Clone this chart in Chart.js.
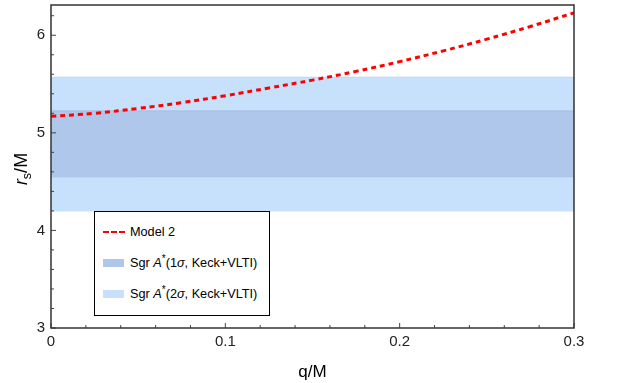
<!DOCTYPE html>
<html>
<head>
<meta charset="utf-8">
<script src="https://cdn.jsdelivr.net/npm/chart.js@4.4.1/dist/chart.umd.min.js"></script>
<style>
  body { margin: 0; background: #fff; }
  #caixa { position: relative; width: 617px; height: 383px; }
  #legenda {
    position: absolute; left: 94px; top: 211px; width: 174px; height: 103px;
    border: 1.5px solid #000; background: #fff;
    font-family: "Liberation Sans", Arial, sans-serif; font-size: 12.7px; color: #000;
  }
  .item { position: absolute; left: 8px; height: 14px; line-height: 14px; }
  .marca { position: absolute; left: 0; top: 3px; width: 21px; height: 8px; }
  .texto { position: absolute; left: 27px; top: 0; white-space: nowrap; }
  .texto sup { font-size: 10px; line-height: 0; }
  .tracejado { position: absolute; left: 0; top: 6px; width: 22px; height: 0; border-top: 2.5px dashed #ff0000; }
</style>
</head>
<body>
<div id="caixa">
  <canvas id="grafic" width="617" height="383"></canvas>
  <div id="legenda">
    <div class="item" style="top:13px"><span class="tracejado"></span><span class="texto">Model 2</span></div>
    <div class="item" style="top:44px"><span class="marca" style="background:#aec7eb"></span><span class="texto">Sgr <i>A</i><sup>*</sup>(1<i>σ</i>, Keck+VLTI)</span></div>
    <div class="item" style="top:75px"><span class="marca" style="background:#c7e0fc"></span><span class="texto">Sgr <i>A</i><sup>*</sup>(2<i>σ</i>, Keck+VLTI)</span></div>
  </div>
</div>
<script>
// dados
const qValores = [0, 0.025, 0.05, 0.075, 0.1, 0.125, 0.15, 0.175, 0.2, 0.225, 0.25, 0.275, 0.3]
const rsModelo2 = [5.17, 5.20, 5.25, 5.31, 5.38, 5.46, 5.54, 5.63, 5.73, 5.84, 5.96, 6.09, 6.23]
const faixa1Sigma = [4.55, 5.225]   // [inferior, superior]
const faixa2Sigma = [4.20, 5.57]
const xTicks = [0, 0.1, 0.2, 0.3]
const yTicks = [3, 4, 5, 6]

const xMin = 0, xMax = 0.3, yMin = 3, yMax = 6.31

function linhaFaixa(y) {
    return [{ x: xMin, y: y }, { x: xMax, y: y }]
}

// ticks para dentro + moldura + titulo do eixo y
const moldura = {
    id: 'moldura',
    afterDraw(chart) {
        const ctx = chart.ctx
        const a = chart.chartArea
        const sx = chart.scales.x, sy = chart.scales.y
        ctx.save()
        ctx.strokeStyle = '#444'
        ctx.lineWidth = 1
        for (let i = 0; i <= 15; i++) {
            let v = i * 0.02
            let px = sx.getPixelForValue(v)
            let len = (i % 5 === 0) ? 5 : 3
            ctx.beginPath()
            ctx.moveTo(px, a.bottom)
            ctx.lineTo(px, a.bottom - len)
            ctx.stroke()
        }
        for (let i = 0; i <= 16; i++) {
            let v = 3 + i * 0.2
            if (v > yMax) break
            let py = sy.getPixelForValue(v)
            let len = (i % 5 === 0) ? 5 : 3
            ctx.beginPath()
            ctx.moveTo(a.left, py)
            ctx.lineTo(a.left + len, py)
            ctx.stroke()
        }
        ctx.strokeStyle = '#333'
        ctx.lineWidth = 1.5
        ctx.strokeRect(a.left, a.top, a.right - a.left, a.bottom - a.top)

        // r_s/M
        ctx.translate(27, 169)
        ctx.rotate(-Math.PI / 2)
        ctx.fillStyle = '#000'
        ctx.textBaseline = 'alphabetic'
        const fR = 'italic 18px "Liberation Sans", Arial, sans-serif'
        const fS = '12.5px "Liberation Sans", Arial, sans-serif'
        const fM = '18px "Liberation Sans", Arial, sans-serif'
        ctx.font = fR; let wR = ctx.measureText('r').width
        ctx.font = fS; let wS = ctx.measureText('s').width
        ctx.font = fM; let wM = ctx.measureText('/M').width
        let x0 = -(wR + wS + wM) / 2
        ctx.font = fR; ctx.fillText('r', x0, 0)
        ctx.font = fS; ctx.fillText('s', x0 + wR, 4)
        ctx.font = fM; ctx.fillText('/M', x0 + wR + wS, 0)
        ctx.restore()
    }
}

let ctx = document.getElementById('grafic').getContext('2d')
Chart.defaults.font.family = '"Liberation Sans", Arial, sans-serif'
Chart.defaults.color = '#222'

const data = {
    datasets: [
        {
            label: 'Model 2',
            data: qValores.map((q, i) => ({ x: q, y: rsModelo2[i] })),
            borderColor: '#ff0000',
            borderWidth: 3,
            borderDash: [5, 4],
            pointRadius: 0,
            tension: 0.4,
            fill: false
        },
        {
            label: '1s sup',
            data: linhaFaixa(faixa1Sigma[1]),
            borderColor: '#a5bfe4',
            backgroundColor: '#aec7eb',
            borderWidth: 1,
            pointRadius: 0,
            fill: '+1'
        },
        {
            label: '1s inf',
            data: linhaFaixa(faixa1Sigma[0]),
            borderColor: '#a5bfe4',
            borderWidth: 1,
            pointRadius: 0,
            fill: false
        },
        {
            label: '2s sup',
            data: linhaFaixa(faixa2Sigma[1]),
            borderColor: '#bcd6f4',
            backgroundColor: '#c7e0fc',
            borderWidth: 1,
            pointRadius: 0,
            fill: '+1'
        },
        {
            label: '2s inf',
            data: linhaFaixa(faixa2Sigma[0]),
            borderColor: '#bcd6f4',
            borderWidth: 1,
            pointRadius: 0,
            fill: false
        }
    ]
}

const config = {
    type: 'line',
    data: data,
    options: {
        responsive: false,
        animation: false,
        layout: { padding: { top: 5, right: 43, left: 0, bottom: 0 } },
        plugins: {
            legend: { display: false },
            tooltip: { enabled: false }
        },
        scales: {
            x: {
                type: 'linear',
                min: xMin,
                max: xMax,
                grid: { display: false, drawTicks: false },
                border: { display: false },
                afterBuildTicks: (s) => { s.ticks = xTicks.map(v => ({ value: v })) },
                afterFit: (s) => { s.height = 55; s.paddingLeft = 0; s.paddingRight = 0 },
                ticks: {
                    font: { size: 15 },
                    padding: 5,
                    maxRotation: 0,
                    callback: (v) => String(v)
                },
                title: {
                    display: true,
                    text: 'q/M',
                    font: { size: 17 },
                    color: '#000',
                    padding: { top: 6, bottom: 0 }
                }
            },
            y: {
                min: yMin,
                max: yMax,
                grid: { display: false, drawTicks: false },
                border: { display: false },
                afterBuildTicks: (s) => { s.ticks = yTicks.map(v => ({ value: v })) },
                afterFit: (s) => { s.width = 51; s.paddingTop = 0; s.paddingBottom = 0 },
                ticks: {
                    font: { size: 15 },
                    padding: 6,
                    callback: (v) => String(v)
                }
            }
        }
    },
    plugins: [moldura]
}

let grafic = new Chart(ctx, config)
</script>
</body>
</html>
